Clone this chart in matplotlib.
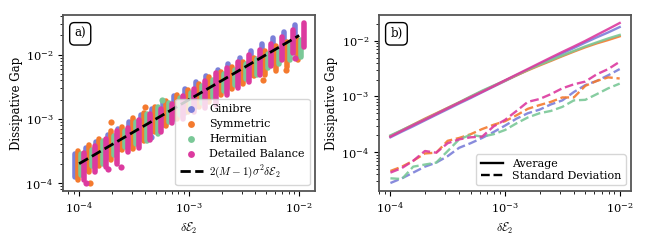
import numpy as np
import matplotlib.pyplot as plt
from matplotlib.lines import Line2D

plt.rcParams['font.family'] = ['DejaVu Serif']
plt.rcParams['mathtext.fontset'] = 'cm'
plt.rcParams['font.size'] = 8

# Données
delta_e2 = [1.00e-4, 1.26e-4, 1.58e-4, 2.00e-4, 2.51e-4, 3.16e-4, 3.98e-4, 5.01e-4, 6.31e-4, 7.94e-4,
            1.00e-3, 1.26e-3, 1.58e-3, 2.00e-3, 2.51e-3, 3.16e-3, 3.98e-3, 5.01e-3, 6.31e-3, 7.94e-3, 1.00e-2]
series = ["Ginibre", "Symmetric", "Hermitian", "Detailed Balance"]
colors = ["#7b7fd9", "#f47a2e", "#7ac897", "#dc3a9f"]

mean_ginibre = [1.85e-4, 2.34e-4, 2.92e-4, 3.72e-4, 4.69e-4, 5.91e-4, 7.48e-4, 9.37e-4, 1.19e-3, 1.50e-3,
                1.89e-3, 2.39e-3, 3.00e-3, 3.78e-3, 4.72e-3, 5.91e-3, 7.40e-3, 9.27e-3, 1.15e-2, 1.41e-2, 1.76e-2]
mean_symmetric = [1.95e-4, 2.47e-4, 3.13e-4, 4.00e-4, 4.99e-4, 6.26e-4, 7.84e-4, 9.92e-4, 1.24e-3, 1.54e-3,
                  1.92e-3, 2.39e-3, 2.94e-3, 3.60e-3, 4.34e-3, 5.28e-3, 6.37e-3, 7.62e-3, 8.96e-3, 1.03e-2, 1.20e-2]
mean_hermitian = [2.00e-4, 2.49e-4, 3.10e-4, 3.90e-4, 4.89e-4, 6.19e-4, 7.84e-4, 1.00e-3, 1.27e-3, 1.57e-3,
                  1.93e-3, 2.42e-3, 3.00e-3, 3.70e-3, 4.47e-3, 5.44e-3, 6.57e-3, 7.92e-3, 9.34e-3, 1.10e-2, 1.27e-2]
mean_balance = [1.90e-4, 2.42e-4, 3.05e-4, 3.84e-4, 4.84e-4, 6.13e-4, 7.72e-4, 9.67e-4, 1.21e-3, 1.53e-3,
                1.95e-3, 2.47e-3, 3.11e-3, 3.96e-3, 4.99e-3, 6.29e-3, 7.88e-3, 9.92e-3, 1.27e-2, 1.62e-2, 2.08e-2]

std_ginibre = [2.8e-5, 3.4e-5, 4.3e-5, 5.5e-5, 6.5e-5, 8.5e-5, 1.2e-4, 1.45e-4, 1.8e-4, 2.3e-4,
               3.0e-4, 4.0e-4, 5.0e-4, 5.8e-4, 7.2e-4, 8.5e-4, 1.2e-3, 1.6e-3, 1.9e-3, 2.4e-3, 3.1e-3]
std_symmetric = [4.6e-5, 5.5e-5, 7.0e-5, 9.5e-5, 9.8e-5, 1.6e-4, 1.8e-4, 2.1e-4, 2.6e-4, 3.1e-4,
                 3.6e-4, 4.6e-4, 6.0e-4, 7.0e-4, 8.0e-4, 9.6e-4, 9.6e-4, 1.55e-3, 1.9e-3, 2.2e-3, 2.1e-3]
std_hermitian = [3.4e-5, 3.3e-5, 5.5e-5, 6.0e-5, 6.5e-5, 1.05e-4, 1.7e-4, 2.05e-4, 1.9e-4, 2.1e-4,
                 2.5e-4, 3.3e-4, 4.2e-4, 5.0e-4, 5.5e-4, 6.5e-4, 8.5e-4, 8.7e-4, 1.1e-3, 1.4e-3, 1.7e-3]
std_balance = [4.3e-5, 5.2e-5, 7.0e-5, 1.05e-4, 9.8e-5, 1.45e-4, 1.7e-4, 1.85e-4, 1.9e-4, 2.9e-4,
               3.8e-4, 5.5e-4, 8.0e-4, 9.0e-4, 1.1e-3, 1.4e-3, 1.65e-3, 1.85e-3, 2.5e-3, 3.1e-3, 4.2e-3]

# étendue des nuages de points (bas / haut) pour chaque colonne
low_ginibre = [1.23e-4, 1.59e-4, 1.97e-4, 2.51e-4, 3.26e-4, 4.04e-4, 4.84e-4, 6.18e-4, 7.94e-4, 9.94e-4,
               1.23e-3, 1.51e-3, 1.90e-3, 2.50e-3, 3.14e-3, 4.04e-3, 4.76e-3, 5.75e-3, 7.32e-3, 8.82e-3, 1.08e-2]
high_ginibre = [2.83e-4, 3.53e-4, 4.42e-4, 5.65e-4, 6.97e-4, 8.89e-4, 1.17e-3, 1.45e-3, 1.82e-3, 2.31e-3,
                2.94e-3, 3.79e-3, 4.75e-3, 5.81e-3, 7.24e-3, 8.89e-3, 1.16e-2, 1.49e-2, 1.82e-2, 2.25e-2, 2.95e-2]
low_symmetric = [1.12e-4, 1.48e-4, 1.87e-4, 2.29e-4, 3.23e-4, 3.38e-4, 4.60e-4, 6.14e-4, 7.72e-4, 9.82e-4,
                 1.27e-3, 1.56e-3, 1.86e-3, 2.34e-3, 2.90e-3, 3.55e-3, 4.64e-3, 4.83e-3, 5.54e-3, 6.34e-3, 8.20e-3]
high_symmetric = [3.10e-4, 3.85e-4, 4.88e-4, 6.38e-4, 7.44e-4, 1.03e-3, 1.23e-3, 1.52e-3, 1.89e-3, 2.32e-3,
                  2.82e-3, 3.54e-3, 4.44e-3, 5.35e-3, 6.34e-3, 7.68e-3, 8.77e-3, 1.15e-2, 1.37e-2, 1.58e-2, 1.73e-2]
low_hermitian = [1.32e-4, 1.83e-4, 2.00e-4, 2.70e-4, 3.59e-4, 4.09e-4, 4.44e-4, 5.90e-4, 8.90e-4, 1.15e-3,
                 1.43e-3, 1.76e-3, 2.16e-3, 2.70e-3, 3.37e-3, 4.14e-3, 4.87e-3, 6.18e-3, 7.14e-3, 8.20e-3, 9.30e-3]
high_hermitian = [2.85e-4, 3.32e-4, 4.48e-4, 5.40e-4, 6.52e-4, 8.82e-4, 1.21e-3, 1.51e-3, 1.75e-3, 2.10e-3,
                  2.56e-3, 3.25e-3, 4.05e-3, 4.95e-3, 5.85e-3, 7.07e-3, 8.70e-3, 1.01e-2, 1.21e-2, 1.45e-2, 1.70e-2]
low_balance = [1.13e-4, 1.48e-4, 1.79e-4, 1.95e-4, 3.08e-4, 3.52e-4, 4.66e-4, 6.34e-4, 8.68e-4, 1.01e-3,
               1.27e-3, 1.48e-3, 1.67e-3, 2.34e-3, 3.01e-3, 3.77e-3, 4.91e-3, 6.59e-3, 8.20e-3, 1.06e-2, 1.32e-2]
high_balance = [2.98e-4, 3.72e-4, 4.80e-4, 6.47e-4, 7.29e-4, 9.76e-4, 1.20e-3, 1.43e-3, 1.69e-3, 2.26e-3,
                2.90e-3, 3.85e-3, 5.11e-3, 6.21e-3, 7.74e-3, 9.79e-3, 1.20e-2, 1.45e-2, 1.90e-2, 2.40e-2, 3.13e-2]

# points isolés
outlier_x = [[5.0e-4], [1.3e-4, 2.0e-4, 4.1e-4, 4.8e-3, 7.8e-3], [5.5e-4], [1.05e-4, 1.65e-4, 2.2e-4, 8.3e-3]]
outlier_y = [[5.2e-4], [1.0e-4, 9.0e-4, 1.55e-3, 4.1e-3, 5.7e-3], [2.0e-3], [1.0e-4, 1.65e-4, 1.75e-4, 8.9e-3]]

theory_coef = 2.0  # 2(M-1)sigma^2

means = [mean_ginibre, mean_symmetric, mean_hermitian, mean_balance]
stds = [std_ginibre, std_symmetric, std_hermitian, std_balance]
lows = [low_ginibre, low_symmetric, low_hermitian, low_balance]
highs = [high_ginibre, high_symmetric, high_hermitian, high_balance]
shifts = [10 ** -0.042, 10 ** -0.014, 10 ** 0.014, 10 ** 0.042]

fig = plt.figure(figsize=(6.5, 2.5), dpi=100)
ax_a = fig.add_axes([0.097, 0.236, 0.388, 0.704])
ax_b = fig.add_axes([0.583, 0.236, 0.388, 0.704])

x = np.array(delta_e2)

# panneau a)
for k in range(4):
    xs = x * shifts[k]
    ax_a.vlines(xs, lows[k], highs[k], color=colors[k], lw=4.0,
                capstyle='round', zorder=2 + k * 0.1)
    ax_a.scatter(np.array(outlier_x[k]) * shifts[k], outlier_y[k], s=20, color=colors[k],
                 lw=0, zorder=2 + k * 0.1, label=series[k])
ax_a.plot(x, theory_coef * x, 'k--', lw=2, zorder=5, label=r"$2(M-1)\sigma^2\delta\mathcal{E}_2$")

# panneau b)
for k in range(4):
    ax_b.plot(x, means[k], color=colors[k], alpha=0.9, lw=1.7)
    ax_b.plot(x, stds[k], color=colors[k], alpha=0.9, lw=1.7, ls='--')

for ax, tag in [(ax_a, "a)"), (ax_b, "b)")]:
    ax.set_xscale('log')
    ax.set_yscale('log')
    ax.set_xlabel(r"$\delta\mathcal{E}_2$", fontsize=8.5)
    ax.set_ylabel("Dissipative Gap", fontsize=8.5, labelpad=2)
    ax.tick_params(labelsize=8.2)
    for sp in ax.spines.values():
        sp.set_color('#555555')
        sp.set_linewidth(1.3)
    ax.text(0.045, 0.93, tag, transform=ax.transAxes, va='top', ha='left', fontsize=8.5,
            bbox=dict(boxstyle='round,pad=0.4', fc='white', ec='black', lw=1))

ax_a.legend(loc='lower right', fontsize=8, framealpha=0.8, borderpad=0.45,
            handletextpad=0.6, labelspacing=0.45, markerscale=1.1)
handles_b = [Line2D([], [], color='k', lw=1.7), Line2D([], [], color='k', lw=1.7, ls='--')]
ax_b.legend(handles_b, ["Average", "Standard Deviation"], loc='lower right', fontsize=8,
            framealpha=0.8, borderpad=0.4, labelspacing=0.2)

fig.savefig("out.png", dpi=100)
